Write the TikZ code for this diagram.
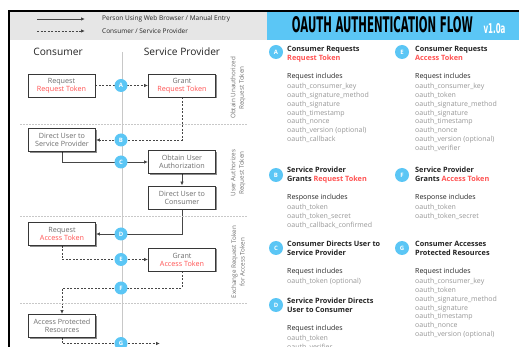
\documentclass[tikz,border=0pt]{standalone}
\usepackage{fontspec}
\setmainfont{Open Sans}
\newfontfamily\ttlfont{DejaVu Sans}
\usetikzlibrary{arrows.meta,shadows}
\definecolor{oblue}{RGB}{91,198,245}
\definecolor{tred}{RGB}{255,82,82}
\definecolor{bandg}{RGB}{230,230,230}
\definecolor{boxc}{RGB}{55,55,55}
\definecolor{txtg}{RGB}{110,110,110}
\definecolor{itemg}{RGB}{150,150,150}
\definecolor{darkt}{RGB}{35,35,35}
\definecolor{lineg}{RGB}{70,70,70}
\definecolor{sepg}{RGB}{200,200,200}
\pgfdeclarelayer{bg}
\pgfsetlayers{bg,main}
\newcommand{\blk}[1]{\begin{tabular}[t]{@{}l@{}}#1\end{tabular}}
\tikzset{
 stepbox/.style={draw=boxc, line width=0.9pt, fill=white, minimum width=67pt, minimum height=23pt, inner sep=1pt, align=center, text=txtg, font=\fontsize{7.2}{8}\selectfont, drop shadow={shadow xshift=1.2pt, shadow yshift=-1.2pt, fill=black, opacity=0.45}},
 circ/.style={circle, fill=oblue, text=white, minimum size=13pt, inner sep=0pt, font=\bfseries\fontsize{6}{6}\selectfont},
 sol/.style={draw=lineg, line width=0.9pt},
 dsh/.style={draw=lineg, line width=0.9pt, dash pattern=on 2pt off 1.5pt},
 tip/.style={-{Latex[length=4pt,width=3.5pt]}},
 sep/.style={draw=sepg, line width=0.6pt, dash pattern=on 1.5pt off 1.5pt},
 rlab/.style={rotate=90, align=center, text=txtg, font=\fontsize{6.3}{8.5}\selectfont, inner sep=0pt},
 hdr/.style={text=darkt, font=\fontsize{10.2}{12}\selectfont, inner sep=0pt},
 legt/.style={anchor=west, text=darkt, font=\fontsize{6.5}{8}\selectfont, inner sep=0pt},
 stitle/.style={anchor=base west, inner sep=0pt, text=darkt, font=\bfseries\fontsize{7.3}{9}\selectfont},
 slist/.style={anchor=base west, inner sep=0pt, text=itemg, font=\fontsize{7}{8.85}\selectfont},
}
\begin{document}
\begin{tikzpicture}[x=1pt,y=-1pt]
\useasboundingbox (0,0) rectangle (519,347);
% frame and bands
\fill[bandg] (10,12) rectangle (267,40);
\fill[oblue] (267,12) rectangle (519,40);
\draw[line width=1.3pt, black] (519,11) -- (9,11) -- (9,347);
\draw[sepg, line width=0.5pt] (122,52) -- (122,347);
% separators
\draw[sep] (20,124) -- (248,124);
\draw[sep] (20,216) -- (248,216);
\draw[sep] (20,303) -- (248,303);
% title
\node[inner sep=0] (ttl) at (382.5,25) {\resizebox{181pt}{16pt}{\ttlfont\bfseries OAUTH AUTHENTICATION FLOW}};
\node[inner sep=0, text=white] (ver) at (494.5,28.5) {\resizebox{22pt}{10pt}{\ttlfont\bfseries v1.0a}};
% legend
\coordinate (la1) at (37,19); \coordinate (la2) at (85,19);
\coordinate (lb1) at (37,31); \coordinate (lb2) at (85,31);
\draw[sol,tip] (la1) -- (la2);
\draw[dsh,tip] (lb1) -- (lb2);
\node[legt] (lt1) at (102,19) {Person Using Web Browser / Manual Entry};
\node[legt] (lt2) at (102,31) {Consumer / Service Provider};
% headers
\node[hdr] (hcons) at (58,52) {Consumer};
\node[hdr] (hsp) at (182,52) {Service Provider};
% boxes
\node[stepbox] (rrt) at (61.5,85.5) {Request\\\textcolor{tred}{Request Token}};
\node[stepbox] (grt) at (182,85.5) {Grant\\\textcolor{tred}{Request Token}};
\node[stepbox] (dusp) at (62,140) {Direct User to\\Service Provider};
\node[stepbox] (oua) at (182,162) {Obtain User\\Authorization};
\node[stepbox] (duc) at (182,197.5) {Direct User to\\Consumer};
\node[stepbox] (rat) at (62,234) {Request\\\textcolor{tred}{Access Token}};
\node[stepbox] (gat) at (182,259.5) {Grant\\\textcolor{tred}{Access Token}};
\node[stepbox] (apr) at (62,326) {Access Protected\\Resources};
% circles
\node[circ] (A) at (121,85.5) {A};
\node[circ] (B) at (121,140) {B};
\node[circ] (C) at (121,162) {C};
\node[circ] (D) at (121,234) {D};
\node[circ] (E) at (121,259.5) {E};
\node[circ] (F) at (121,288) {F};
\node[circ] (G) at (121,343.5) {G};
\coordinate (gend) at (160,343.5);
% connectors
\begin{pgfonlayer}{bg}
\draw[dsh,tip] (rrt.east) -- (grt.west);
\draw[dsh] (grt.south) |- (B.center);
\draw[dsh,tip] (B.center) -- (dusp.east);
\draw[sol] (dusp.south) |- (C.center);
\draw[sol,tip] (C.center) -- (oua.west);
\draw[sol,tip] (oua.south) -- (duc.north);
\draw[sol] (duc.south) |- (D.center);
\draw[sol,tip] (D.center) -- (rat.east);
\draw[dsh] (rat.south) |- (E.center);
\draw[dsh,tip] (E.center) -- (gat.west);
\draw[dsh] (gat.south) |- (F.center);
\draw[dsh,tip] (F.center) -| (apr.north);
\draw[dsh] (apr.south) |- (G.center);
\draw[dsh,tip] (G.center) -- (gend);
\end{pgfonlayer}
% rotated labels
\node[rlab] (r1) at (238,88) {Obtain Unauthorized\\Request Token};
\node[rlab] (r2) at (238,173) {User Authorizes\\Request Token};
\node[rlab] (r3) at (238,262) {Exchange Request Token\\for Access Token};
% right panel circles
\node[circ, minimum size=14pt] (cA) at (276,52) {A};
\node[circ, minimum size=14pt] (cE) at (402,52) {E};
\node[circ, minimum size=14pt] (cB) at (276,175) {B};
\node[circ, minimum size=14pt] (cF) at (402,175) {F};
\node[circ, minimum size=14pt] (cC) at (276,248) {C};
\node[circ, minimum size=14pt] (cG) at (402,248) {G};
\node[circ, minimum size=14pt] (cD) at (276,305) {D};
% right panel text
\node[stitle] (tA) at (287,51.5) {\blk{Consumer Requests\\\textcolor{tred}{Request Token}}};
\node[slist] (lA) at (287,78.5) {\blk{\textcolor{darkt}{Request includes}\\[1.2pt]oauth\_consumer\_key\\oauth\_signature\_method\\oauth\_signature\\oauth\_timestamp\\oauth\_nonce\\oauth\_version (optional)\\oauth\_callback}};
\node[stitle] (tE) at (415,51.5) {\blk{Consumer Requests\\\textcolor{tred}{Access Token}}};
\node[slist] (lE) at (415,78.5) {\blk{\textcolor{darkt}{Request includes}\\[1.2pt]oauth\_consumer\_key\\oauth\_token\\oauth\_signature\_method\\oauth\_signature\\oauth\_timestamp\\oauth\_nonce\\oauth\_version (optional)\\oauth\_verifier}};
\node[stitle] (tB) at (287,172.5) {\blk{Service Provider\\Grants \textcolor{tred}{Request Token}}};
\node[slist] (lB) at (287,199.5) {\blk{\textcolor{darkt}{Response includes}\\[1.2pt]oauth\_token\\oauth\_token\_secret\\oauth\_callback\_confirmed}};
\node[stitle] (tF) at (415,172.5) {\blk{Service Provider\\Grants \textcolor{tred}{Access Token}}};
\node[slist] (lF) at (415,199.5) {\blk{\textcolor{darkt}{Response includes}\\[1.2pt]oauth\_token\\oauth\_token\_secret}};
\node[stitle] (tC) at (287,246.5) {\blk{Consumer Directs User to\\Service Provider}};
\node[slist] (lC) at (287,273.5) {\blk{\textcolor{darkt}{Request includes}\\[1.2pt]oauth\_token (optional)}};
\node[stitle] (tD) at (287,303.5) {\blk{Service Provider Directs\\User to Consumer}};
\node[slist] (lD) at (287,330.5) {\blk{\textcolor{darkt}{Request includes}\\[1.2pt]oauth\_token\\oauth\_verifier}};
\node[stitle] (tG) at (415,246.5) {\blk{Consumer Accesses\\Protected Resources}};
\node[slist] (lG) at (415,273.5) {\blk{\textcolor{darkt}{Request includes}\\[1.2pt]oauth\_consumer\_key\\oauth\_token\\oauth\_signature\_method\\oauth\_signature\\oauth\_timestamp\\oauth\_nonce\\oauth\_version (optional)}};
\end{tikzpicture}
\end{document}
